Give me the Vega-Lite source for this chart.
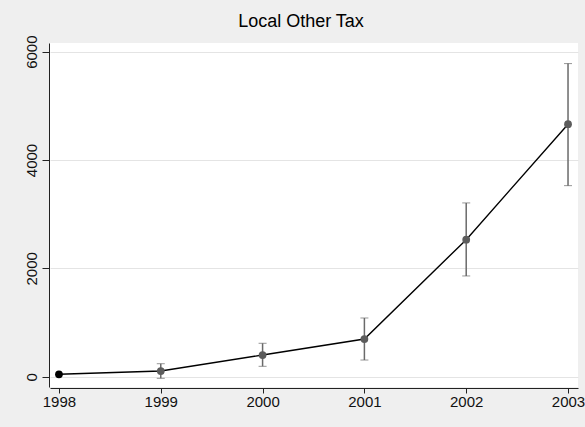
{
  "$schema": "https://vega.github.io/schema/vega-lite/v6.json",
  "width": 528,
  "height": 344,
  "autosize": {"type": "none"},
  "padding": {"left": 50, "top": 43, "right": 7, "bottom": 40},
  "background": "#EFEFEF",
  "title": {
    "text": "Local Other Tax",
    "fontSize": 18,
    "font": "Liberation Sans",
    "fontWeight": "normal",
    "color": "#000000",
    "anchor": "middle",
    "offset": 4,
    "dx": -13
  },
  "config": {
    "view": {"fill": "#FFFFFF", "stroke": null},
    "axis": {
      "labelFont": "Liberation Sans",
      "labelFontSize": 15,
      "labelColor": "#111111",
      "domainColor": "#222222",
      "tickColor": "#222222",
      "gridColor": "#E4E4E4",
      "gridWidth": 1
    }
  },
  "data": {
    "values": [
      {"year": 1998, "value": 45, "lo": null, "hi": null, "kind": "base"},
      {"year": 1999, "value": 105, "lo": -30, "hi": 240, "kind": "est"},
      {"year": 2000, "value": 400, "lo": 192, "hi": 617, "kind": "est"},
      {"year": 2001, "value": 696, "lo": 308, "hi": 1084, "kind": "est"},
      {"year": 2002, "value": 2530, "lo": 1860, "hi": 3208, "kind": "est"},
      {"year": 2003, "value": 4661, "lo": 3527, "hi": 5780, "kind": "est"}
    ]
  },
  "encoding": {
    "x": {
      "field": "year",
      "type": "quantitative",
      "title": null,
      "scale": {"domain": [1997.912, 2003.098], "nice": false, "zero": false},
      "axis": {
        "values": [1998, 1999, 2000, 2001, 2002, 2003],
        "format": "d",
        "grid": false,
        "offset": 1,
        "tickSize": 5,
        "labelPadding": 1,
        "labelFlush": false,
        "labelOverlap": false
      }
    }
  },
  "layer": [
    {
      "transform": [{"filter": "datum.lo != null"}],
      "mark": {"type": "errorbar", "ticks": {"size": 8, "color": "#6A6A6A", "strokeWidth": 1.5}, "rule": {"color": "#6A6A6A", "strokeWidth": 1.5}},
      "encoding": {
        "y": {
          "field": "lo",
          "type": "quantitative",
          "title": null,
          "scale": {"domain": [-190, 6160], "nice": false, "zero": false},
          "axis": {
            "title": null,
            "values": [0, 2000, 4000, 6000],
            "format": "d",
            "grid": true,
            "offset": 1,
            "tickSize": 7,
            "labelAngle": -90,
            "labelAlign": "center",
            "labelBaseline": "bottom",
            "labelPadding": 3,
            "labelFlush": false,
            "labelOverlap": false
          }
        },
        "y2": {"field": "hi"}
      }
    },
    {
      "mark": {"type": "line", "color": "#000000", "strokeWidth": 1.4},
      "encoding": {
        "y": {"field": "value", "type": "quantitative", "title": null}
      }
    },
    {
      "mark": {"type": "point", "filled": true, "opacity": 1, "size": 60},
      "encoding": {
        "y": {"field": "value", "type": "quantitative", "title": null},
        "color": {
          "field": "kind",
          "type": "nominal",
          "scale": {"domain": ["base", "est"], "range": ["#000000", "#5C5C5C"]},
          "legend": null
        }
      }
    }
  ]
}
